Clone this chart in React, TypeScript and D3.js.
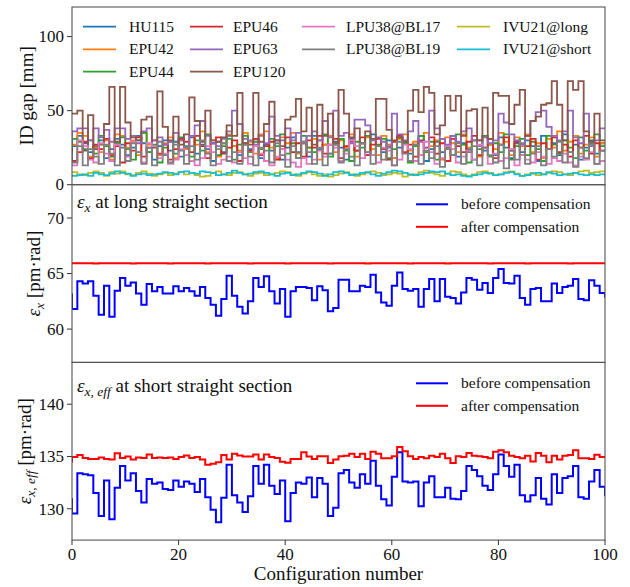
import React from 'react';
import * as d3 from 'd3';

// configuration index 0..100 (step plot, where='pre')
const configs = d3.range(0, 101);

// ---- top panel: ID gaps [mm]
const hu115 = [30,26,33,28,22,26,30,18,24,31,27,20,25,33,28,22,17,26,30,23,29,19,25,32,21,27,24,16,29,22,33,26,20,28,24,31,18,27,23,30,17,25,32,22,28,19,33,24,27,21,29,25,17,31,23,28,20,34,26,22,30,18,25,29,21,27,33,16,24,29,22,26,33,19,28,24,17,30,23,27,20,32,25,18,28,22,30,26,16,33,24,28,20,34,22,27,17,25,30,21,28];
const epu42 = [28,27,35,33,19,25,22,30,17,34,33,25,30,20,35,27,26,20,28,32,18,30,24,33,27,36,22,30,19,28,34,26,23,35,29,21,34,36,25,18,32,28,35,21,29,25,31,17,27,33,22,30,25,34,19,28,32,24,20,33,27,18,31,34,23,29,20,35,26,30,17,32,28,22,34,25,30,19,33,27,24,35,29,20,32,26,34,22,28,18,31,25,36,23,29,33,21,27,32,19,28];
const epu44 = [18,31,29,24,30,21,33,26,19,28,32,24,17,30,35,22,27,15,25,29,21,32,26,19,30,23,34,28,20,26,31,17,27,33,22,29,24,16,31,26,34,21,28,18,33,25,22,30,34,19,27,31,23,16,29,25,33,20,27,31,18,24,32,28,15,26,33,22,29,17,31,25,20,34,27,15,30,24,33,19,28,22,34,17,26,31,20,29,24,16,33,27,21,30,25,18,32,23,28,34,26];
const epu46 = [25,16,22,29,18,27,24,31,20,26,15,28,23,32,19,25,30,21,27,17,24,31,29,22,33,26,18,28,32,21,25,30,16,27,23,31,20,26,29,17,24,32,22,28,19,30,25,33,21,27,31,18,26,29,23,32,20,27,31,24,17,29,33,22,27,19,30,25,32,21,28,16,31,26,22,29,33,20,25,31,18,27,32,23,29,20,26,31,17,28,24,32,22,27,19,30,25,33,21,28,23];
const epu63 = [30,36,38,38,30,38,32,37,29,38,38,31,33,28,36,38,30,32,27,29,35,30,25,33,40,43,33,28,26,31,36,50,41,31,30,27,33,28,46,33,30,38,30,35,28,33,36,30,43,32,50,33,35,28,44,44,40,30,32,29,26,48,34,30,36,43,29,25,50,38,31,27,33,29,36,38,30,26,32,28,30,48,42,34,30,27,33,43,49,50,39,33,30,36,50,32,28,48,26,30,38];
const epu120 = [48,48,50,23,47,24,27,41,66,29,66,42,32,30,44,46,25,63,39,30,46,27,34,59,43,29,50,30,29,32,40,33,62,28,27,62,29,41,56,30,26,44,46,58,36,52,27,54,33,48,28,64,48,32,38,28,36,31,58,58,37,30,32,29,50,64,49,66,62,34,40,60,50,60,33,50,51,30,52,31,62,60,60,41,54,64,33,43,46,54,55,70,54,30,70,64,70,36,29,48,30];
const lpu38bl17 = [14,13,30,26,17,15,28,21,16,27,25,19,29,22,15,28,26,18,21,14,17,24,20,16,13,18,26,22,14,17,19,15,22,18,14,26,21,16,13,19,24,17,15,12,18,14,17,23,19,27,25,16,21,30,26,18,22,20,15,25,23,13,17,27,24,16,20,29,22,14,18,26,24,15,19,23,17,27,25,14,21,16,18,24,13,20,17,15,22,19,14,18,16,21,15,13,19,17,22,14,16];
const lpu38bl19 = [22,15,26,13,24,19,14,27,21,13,25,16,28,22,14,25,13,29,20,15,27,23,14,26,17,30,21,13,24,28,16,22,14,27,19,13,25,23,15,28,20,12,26,18,29,22,14,25,13,21,27,15,24,19,13,28,22,14,26,17,25,13,29,21,16,27,14,23,18,26,12,24,20,28,14,22,26,13,25,20,15,27,11,23,17,28,14,21,26,13,24,19,29,15,22,12,25,18,27,14,23];
const ivu21long = [8,8.5,7,6.5,8,9,8,6,8.5,7.5,9,7,6.5,8,9,7.5,6,7,8,6.5,7.5,8.5,7,8,6.5,5.5,6,8,9,7,6.5,8,8.5,7,6,7.5,8,6.5,7,8,9,8.5,7,6,7.5,8.5,7,6,7,5.5,6.5,7.5,8.5,7,6,7,8,9,8,6.5,7,8,7.5,5.5,6.5,7,8.5,9.5,8,7,6,7.5,9,8.5,7,6,7,8.5,9,8,6.5,7,8.5,9,7.5,6,7,8,6.5,7,8,9,8.5,7,6.5,8,9,9.5,8,8.5,9];
const ivu21short = [7,6,6.5,7,6,8,7,6.5,7.5,9,8,7.5,6,7,7.5,6.5,7,7.5,8.5,8,7,8.5,9,8,7.5,9,8.5,8,6.5,7,8,9.5,8,7,7.5,8.5,9,8,7,6,7.5,8,6.5,7,8,9,8.5,7.5,6,7,8.5,9,8,6.5,7,8,8.5,7,6,7.5,8.5,9.5,9,8,7,6.5,7,8,9,8.5,9,7.5,6.5,7,6,5.5,6.5,7,8,7.5,6.5,7,8,8.5,7,6,6.5,7.5,8,7,8.5,7.5,6.5,7,7.5,8,7,6.5,7,6.5,7];

const gapNames = ['HU115','EPU42','EPU44','EPU46','EPU63','EPU120','LPU38@BL17','LPU38@BL19','IVU21@long','IVU21@short'];
const gapSeries = [hu115, epu42, epu44, epu46, epu63, epu120, lpu38bl17, lpu38bl19, ivu21long, ivu21short];
const gapColors = ['#1f77b4','#ff7f0e','#2ca02c','#d62728','#9467bd','#8c564b','#e377c2','#7f7f7f','#bcbd22','#17becf'];

// ---- middle panel: eps_x at long straight section [pm rad] (one extra point past 100)
const exBefore = [63.2,61.8,64.3,64.1,64.3,63.0,61.3,63.9,61.1,63.45,64.6,63.9,64.2,63.2,62.2,64.05,63.4,63.8,63.2,63.2,63.85,63.4,63.7,63.4,63.0,63.8,62.8,62.2,61.2,62.7,64.8,63.0,62.0,61.4,62.5,64.6,63.8,64.75,63.4,62.3,63.6,61.1,63.4,63.8,63.8,63.7,62.6,63.85,63.5,61.6,61.9,64.45,64.45,63.4,63.4,63.9,63.8,64.9,63.3,62.4,62.1,63.9,65.1,63.6,63.45,63.6,62.0,63.6,64.5,62.5,64.5,62.9,62.8,62.3,63.3,64.6,64.45,63.55,64.15,63.25,64.6,65.4,64.15,64.1,64.8,62.8,62.2,63.6,63.7,62.5,62.5,64.1,63.25,63.8,63.9,64.5,62.7,62.6,64.4,63.9,63.25,62.9];
const exAfter = [65.92,65.92,65.93,65.92,65.92,65.91,65.92,65.92,65.93,65.92,65.92,65.92,65.91,65.92,65.92,65.93,65.92,65.92,65.92,65.91,65.92,65.92,65.93,65.92,65.92,65.92,65.91,65.92,65.92,65.92,65.93,65.92,65.92,65.92,65.91,65.92,65.92,65.93,65.92,65.92,65.92,65.91,65.92,65.92,65.92,65.93,65.92,65.92,65.92,65.91,65.92,65.92,65.93,65.92,65.92,65.92,65.91,65.92,65.92,65.92,65.93,65.92,65.92,65.92,65.91,65.92,65.92,65.93,65.92,65.92,65.92,65.91,65.92,65.92,65.92,65.93,65.92,65.92,65.92,65.91,65.92,65.92,65.93,65.92,65.92,65.92,65.91,65.92,65.92,65.92,65.93,65.92,65.92,65.92,65.91,65.92,65.92,65.93,65.92,65.92,65.92,65.92];

// ---- bottom panel: eps_x,eff at short straight section [pm rad]
const effBefore = [131.0,129.55,133.4,133.3,133.2,131.5,129.3,132.7,129.0,132.0,134.1,132.7,133.4,131.7,130.6,132.85,132.4,132.5,131.9,131.8,132.7,132.1,132.6,132.4,131.6,132.85,131.1,129.9,128.7,131.05,134.2,131.3,130.6,129.7,131.2,134.1,132.4,134.2,132.2,131.4,132.7,128.8,131.5,132.5,132.4,133.0,131.1,132.95,132.4,129.3,130.1,133.4,133.7,132.5,132.0,133.3,132.4,134.6,132.2,130.9,130.3,133.05,135.4,132.6,132.5,132.6,130.25,132.5,133.1,131.1,131.1,132.0,130.95,130.9,131.7,134.1,133.7,133.1,132.2,131.8,133.3,135.2,134.1,133.05,134.2,131.3,130.7,131.3,132.95,130.95,130.4,133.3,131.5,132.95,133.1,134.1,131.1,130.95,132.6,133.7,132.1,131.3];
const effAfter = [134.4,134.95,135.15,134.85,134.75,134.75,134.9,134.75,134.7,135.3,134.85,135.0,134.7,134.9,134.85,135.2,134.85,134.9,134.85,134.9,134.75,134.95,135.1,134.85,134.95,134.7,134.2,134.3,134.45,135.15,134.7,135.25,135.1,135.0,135.0,135.2,134.7,135.2,134.95,134.85,134.5,134.4,134.75,134.75,135.4,135.0,134.76,135.02,135.02,134.38,134.7,135.02,135.08,135.27,134.95,135.27,134.76,135.46,135.27,134.83,134.83,135.02,135.9,135.49,135.02,134.76,134.95,134.83,135.08,134.95,135.27,134.83,134.38,135.02,134.95,135.33,135.08,135.02,134.95,134.83,135.46,135.59,135.4,135.08,134.95,134.83,135.08,134.51,135.33,135.08,134.44,135.08,134.7,135.08,135.14,135.59,134.83,134.83,134.76,135.17,134.95,134.95];

const xTicks = [0, 20, 40, 60, 80, 100];
const gapTicks = [0, 50, 100];
const exTicks = [60, 65, 70];
const effTicks = [130, 135, 140];

const FONT = '"Liberation Serif", "Times New Roman", serif';

export default function App() {
  const W = 630, H = 587;
  const left = 72, right = 605;
  const top = 7, ph = 177.7;

  const x = d3.scaleLinear().domain([0, 100]).range([left, right]);
  const yGap = d3.scaleLinear().domain([0, 120]).range([top + ph, top]);
  const yEx = d3.scaleLinear().domain([57, 73]).range([top + 2 * ph, top + ph]);
  const yEff = d3.scaleLinear().domain([127, 144]).range([top + 3 * ph, top + 2 * ph]);

  const stepLine = (y: d3.ScaleLinear<number, number>) =>
    d3.line<number>().x((_, i) => x(i)).y(d => y(d)).curve(d3.curveStepBefore);

  const yTicks = (y: d3.ScaleLinear<number, number>, ticks: number[]) =>
    ticks.map(t => (
      <g key={t}>
        <line x1={left - 5} x2={left} y1={y(t)} y2={y(t)} stroke="#333" strokeWidth={1} />
        <text x={left - 8} y={y(t)} dy="0.34em" textAnchor="end" fontSize={17}>{t}</text>
      </g>
    ));

  const panelBox = (i: number) => (
    <rect x={left} y={top + i * ph} width={right - left} height={ph} fill="none" stroke="#555" strokeWidth={1.1} />
  );

  const legendCols = [
    { lx: 83, tx: 129, items: [0, 1, 2] },
    { lx: 190, tx: 233, items: [3, 4, 5] },
    { lx: 302, tx: 346, items: [6, 7] },
    { lx: 457, tx: 503, items: [8, 9] },
  ];
  const legRows = [26.7, 49.3, 71.7];

  const compLegend = (y0: number) => (
    <g fontSize={15.5}>
      <line x1={416} x2={448} y1={y0} y2={y0} stroke="#0000ff" strokeWidth={2} />
      <text x={461} y={y0} dy="0.32em">before compensation</text>
      <line x1={416} x2={448} y1={y0 + 22.5} y2={y0 + 22.5} stroke="#ff0000" strokeWidth={2} />
      <text x={461} y={y0 + 22.5} dy="0.32em">after compensation</text>
    </g>
  );

  return (
    <svg width={W} height={H} style={{ position: 'absolute', left: 0, top: 0, background: '#fff' }} fontFamily={FONT} fill="#111">
      <defs>
        {[0, 1, 2].map(i => (
          <clipPath id={`clip${i}`} key={i}>
            <rect x={left} y={top + i * ph} width={right - left} height={ph} />
          </clipPath>
        ))}
      </defs>

      {/* top panel */}
      <g clipPath="url(#clip0)" fill="none">
        {gapSeries.map((s, i) => (
          <path key={gapNames[i]} d={stepLine(yGap)(s) || ''} stroke={gapColors[i]} strokeWidth={1.8} />
        ))}
      </g>
      {legendCols.map(c =>
        c.items.map((k, r) => (
          <g key={gapNames[k]}>
            <line x1={c.lx} x2={c.lx + 33} y1={legRows[r]} y2={legRows[r]} stroke={gapColors[k]} strokeWidth={1.8} />
            <text x={c.tx} y={legRows[r]} dy="0.32em" fontSize={15.5}>{gapNames[k]}</text>
          </g>
        ))
      )}
      {yTicks(yGap, gapTicks)}
      <text transform={`translate(33,${top + ph / 2}) rotate(-90)`} textAnchor="middle" fontSize={19}>ID gap [mm]</text>
      {panelBox(0)}

      {/* middle panel */}
      <g clipPath="url(#clip1)" fill="none">
        <path d={stepLine(yEx)(exBefore) || ''} stroke="#0000ff" strokeWidth={2} />
        <path d={stepLine(yEx)(exAfter) || ''} stroke="#ff0000" strokeWidth={2} />
      </g>
      <text x={77} y={208} fontSize={19}>
        <tspan fontStyle="italic">ε</tspan>
        <tspan fontStyle="italic" fontSize={13.5} dy={4}>x</tspan>
        <tspan dy={-4}> at long straight section</tspan>
      </text>
      {compLegend(204.3)}
      {yTicks(yEx, exTicks)}
      <text transform={`translate(40,${top + 1.5 * ph}) rotate(-90)`} textAnchor="middle" fontSize={19}>
        <tspan fontStyle="italic">ε</tspan>
        <tspan fontStyle="italic" fontSize={13.5} dy={4}>x</tspan>
        <tspan dy={-4}> [pm·rad]</tspan>
      </text>
      {panelBox(1)}

      {/* bottom panel */}
      <g clipPath="url(#clip2)" fill="none">
        <path d={stepLine(yEff)(effBefore) || ''} stroke="#0000ff" strokeWidth={2} />
        <path d={stepLine(yEff)(effAfter) || ''} stroke="#ff0000" strokeWidth={2} />
      </g>
      <text x={77} y={392} fontSize={19}>
        <tspan fontStyle="italic">ε</tspan>
        <tspan fontStyle="italic" fontSize={13.5} dy={4}>x, eff</tspan>
        <tspan dy={-4}> at short straight section</tspan>
      </text>
      {compLegend(383.3)}
      {yTicks(yEff, effTicks)}
      <text transform={`translate(31,${top + 2.5 * ph}) rotate(-90)`} textAnchor="middle" fontSize={19}>
        <tspan fontStyle="italic">ε</tspan>
        <tspan fontStyle="italic" fontSize={13.5} dy={4}>x, eff</tspan>
        <tspan dy={-4}> [pm·rad]</tspan>
      </text>
      {panelBox(2)}

      {/* shared x axis */}
      {xTicks.map(t => (
        <g key={t}>
          <line x1={x(t)} x2={x(t)} y1={top + 3 * ph} y2={top + 3 * ph + 5} stroke="#333" strokeWidth={1} />
          <text x={x(t)} y={559.5} textAnchor="middle" fontSize={17}>{t}</text>
        </g>
      ))}
      <text x={(left + right) / 2} y={580} textAnchor="middle" fontSize={19}>Configuration number</text>
    </svg>
  );
}
